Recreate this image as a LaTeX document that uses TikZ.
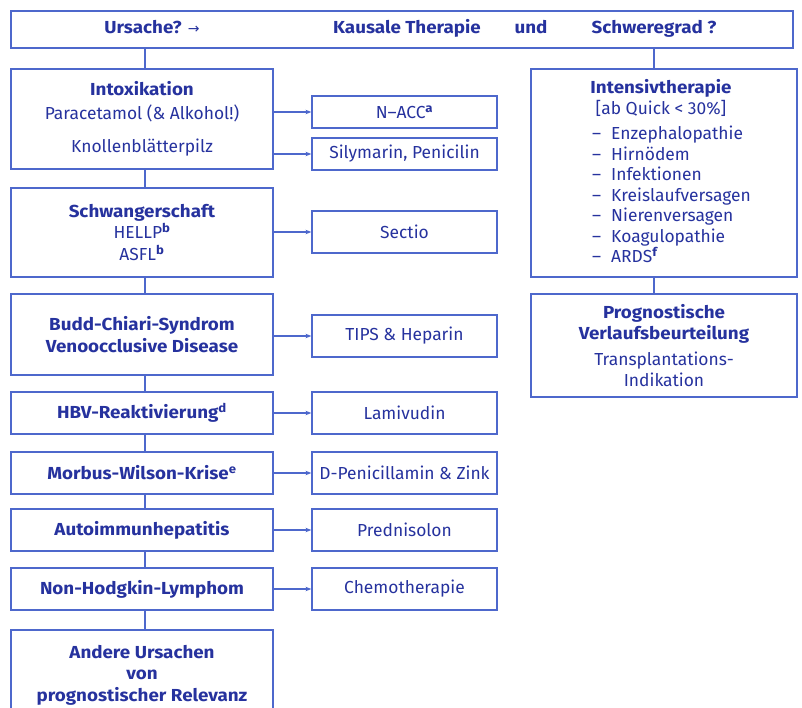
\documentclass[tikz,border=0pt]{standalone}
\usepackage{fontspec}
\setmainfont{Fira Sans}[BoldFeatures={FakeStretch=1.08}]
\newfontfamily\symfont{DejaVu Sans}
\usepackage{tikz}
\usetikzlibrary{arrows.meta, positioning}
\definecolor{ink}{RGB}{38, 50, 158}
\definecolor{rim}{RGB}{78, 104, 204}
\newcommand{\fn}[1]{\textsuperscript{\textbf{#1}}}

\begin{document}
\begin{tikzpicture}[x=1pt, y=-1pt,
  every node/.style={text=ink, font=\fontsize{17.4}{21.5}\selectfont, align=center, inner sep=0pt},
  box/.style={draw=rim, line width=1.2pt, minimum height=42pt},
  cause/.style={box, minimum width=262pt},
  cure/.style={box, minimum width=185pt},
  side/.style={box, minimum width=266pt},
  link/.style={draw=rim, line width=1.2pt},
  feed/.style={link, -{Stealth[length=6pt, width=4.5pt]}}]

  \useasboundingbox (0, 0) rectangle (802, 708);

  % header
  \node[box, minimum width=782pt, minimum height=37pt] (head) at (402, 29.5) {};
  \node[anchor=base] (why) at (152, 34) {\textbf{Ursache?} {\symfont\fontsize{14}{14}\selectfont →}};
  \node[anchor=base] (causal) at (407, 34) {\textbf{Kausale Therapie}};
  \node[anchor=base] (and) at (531, 34) {\textbf{und}};
  \node[anchor=base] (grade) at (654, 34) {\textbf{Schweregrad ?}};

  % causes
  \node[cause, minimum height=100pt] (intox) at (142, 119)
    {\textbf{Intoxikation}\\[2pt]Paracetamol (\& Alkohol!)\\[12pt]Knollenblätterpilz};
  \node[cause, minimum height=89pt] (preg) at (142, 232.5)
    {\textbf{Schwangerschaft}\\HELLP\fn{b}\\ASFL\fn{b}};
  \node[cause, minimum height=81pt] (budd) at (142, 334.5)
    {\textbf{Budd-Chiari-Syndrom}\\\textbf{Venoocclusive Disease}};
  \node[cause] (hbv) at (142, 413) {\textbf{HBV-Reaktivierung\fn{d}}};
  \node[cause] (wilson) at (142, 473) {\textbf{Morbus-Wilson-Krise\fn{e}}};
  \node[cause] (aih) at (142, 530) {\textbf{Autoimmunhepatitis}};
  \node[cause] (nhl) at (142, 589) {\textbf{Non-Hodgkin-Lymphom}};
  \node[cause, minimum height=90pt] (other) at (142, 675)
    {\textbf{Andere Ursachen}\\\textbf{von}\\\textbf{prognostischer Relevanz}};

  % therapies
  \node[cure, minimum height=32pt] (nacc) at (404.5, 112) {N–ACC\fn{a}};
  \node[cure, minimum height=32pt] (sily) at (404.5, 154) {Silymarin, Penicilin};
  \node[cure] (sectio) at (404.5, 232) {Sectio};
  \node[cure] (tips) at (404.5, 336) {TIPS \& Heparin};
  \node[cure] (lami) at (404.5, 413) {Lamivudin};
  \node[cure] (dpen) at (404.5, 473) {D-Penicillamin \& Zink};
  \node[cure] (pred) at (404.5, 530) {Prednisolon};
  \node[cure] (chemo) at (404.5, 589) {Chemotherapie};

  % severity
  \node[side, minimum height=208pt] (icu) at (664, 173) {};
  \node (icu-head) at (661, 98) {\textbf{Intensivtherapie}\\{}[ab Quick < 30\%]};
  \node[anchor=north west, align=left, font=\fontsize{17.4}{20.5}\selectfont] (icu-list) at (592, 126)
    {–\hspace{10pt}Enzephalopathie\\–\hspace{10pt}Hirnödem\\–\hspace{10pt}Infektionen\\
     –\hspace{10pt}Kreislaufversagen\\–\hspace{10pt}Nierenversagen\\
     –\hspace{10pt}Koagulopathie\\–\hspace{10pt}ARDS\fn{f}};
  \node[side, minimum height=103pt] (progn) at (664, 345.5)
    {\textbf{Prognostische}\\\textbf{Verlaufsbeurteilung}\\[4pt]Transplantations-\\Indikation};

  % connectors
  \coordinate (spine) at (145, 0);
  \coordinate (rspine) at (654, 0);
  \foreach \a/\b in {head/intox, intox/preg, preg/budd, budd/hbv, hbv/wilson,
                     wilson/aih, aih/nhl, nhl/other}
    \draw[link] (spine |- \a.south) -- (spine |- \b.north);
  \foreach \a/\b in {head/icu, icu/progn}
    \draw[link] (rspine |- \a.south) -- (rspine |- \b.north);

  \foreach \a/\b in {intox/nacc, intox/sily, preg/sectio, budd/tips, hbv/lami,
                     wilson/dpen, aih/pred, nhl/chemo}
    \draw[feed] (\a.east |- \b.west) -- (\b.west);

\end{tikzpicture}
\end{document}
